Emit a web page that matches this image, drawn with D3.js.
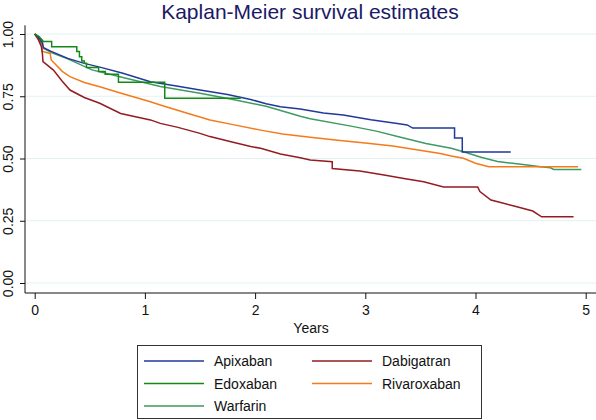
<!DOCTYPE html>
<html><head><meta charset="utf-8">
<script src="https://cdn.jsdelivr.net/npm/d3@7"></script>
<style>body{margin:0;background:#fff;}svg{display:block;font-family:"Liberation Sans",Arial,Helvetica,sans-serif;}</style>
</head><body><svg id="c" width="596" height="420"></svg>
<script>
const title = "Kaplan-Meier survival estimates";
const xLabel = "Years";
const xTicks = [0, 1, 2, 3, 4, 5];
const yTicks = [0, 0.25, 0.5, 0.75, 1];
const seriesNames = ["Apixaban", "Dabigatran", "Edoxaban", "Rivaroxaban", "Warfarin"];
const seriesColors = ["#22399a", "#931c22", "#138a17", "#f57a1a", "#3d9a62"];

const apixaban = [[0,1],[0.03,0.99],[0.07,0.965],[0.08,0.945],[0.15,0.93],[0.3,0.902],[0.45,0.882],[0.6,0.866],[0.8,0.842],[1.05,0.808],[1.3,0.79],[1.5,0.775],[1.75,0.757],[1.96,0.737],[2.1,0.72],[2.23,0.708],[2.41,0.699],[2.62,0.683],[2.8,0.675],[3.05,0.656],[3.29,0.641],[3.38,0.635],[3.43,0.622],[3.81,0.622],[3.81,0.582],[3.88,0.582],[3.88,0.526],[4.32,0.526]];
const dabigatran = [[0,1],[0.03,0.98],[0.06,0.95],[0.07,0.92],[0.075,0.889],[0.17,0.855],[0.25,0.81],[0.32,0.775],[0.45,0.745],[0.59,0.722],[0.78,0.681],[1.05,0.655],[1.14,0.641],[1.3,0.625],[1.5,0.601],[1.59,0.588],[1.8,0.565],[1.96,0.548],[2.05,0.541],[2.23,0.518],[2.41,0.503],[2.5,0.494],[2.7,0.487],[2.7,0.46],[2.95,0.45],[3.17,0.434],[3.35,0.42],[3.53,0.407],[3.71,0.386],[4.02,0.386],[4.04,0.367],[4.14,0.333],[4.22,0.324],[4.35,0.309],[4.52,0.289],[4.6,0.266],[4.89,0.266]];
const edoxaban = [[0,1],[0.04,0.99],[0.078,0.97],[0.154,0.97],[0.154,0.949],[0.382,0.949],[0.382,0.93],[0.406,0.93],[0.406,0.909],[0.427,0.909],[0.427,0.892],[0.45,0.892],[0.45,0.883],[0.47,0.883],[0.47,0.865],[0.58,0.865],[0.58,0.849],[0.64,0.849],[0.64,0.838],[0.76,0.838],[0.76,0.806],[1.18,0.806],[1.18,0.742],[1.87,0.742]];
const rivaroxaban = [[0,1],[0.03,0.99],[0.07,0.975],[0.07,0.93],[0.14,0.922],[0.15,0.896],[0.25,0.85],[0.32,0.829],[0.45,0.805],[0.59,0.788],[0.8,0.76],[1.05,0.728],[1.14,0.715],[1.4,0.68],[1.59,0.655],[1.8,0.636],[2.05,0.614],[2.25,0.598],[2.5,0.585],[2.75,0.573],[3.02,0.561],[3.25,0.55],[3.48,0.534],[3.68,0.52],[3.78,0.51],[3.89,0.501],[4.0,0.481],[4.12,0.467],[4.93,0.467]];
const warfarin = [[0,1],[0.02,0.99],[0.05,0.97],[0.08,0.943],[0.15,0.925],[0.3,0.9],[0.52,0.856],[0.8,0.825],[1.14,0.789],[1.5,0.762],[1.8,0.737],[2.1,0.71],[2.41,0.67],[2.5,0.66],[2.87,0.63],[3.1,0.61],[3.32,0.585],[3.55,0.56],[3.78,0.541],[3.89,0.527],[4.05,0.505],[4.2,0.488],[4.29,0.483],[4.45,0.475],[4.59,0.467],[4.68,0.463],[4.71,0.456],[4.96,0.456]];
const seriesData = [apixaban, dabigatran, edoxaban, rivaroxaban, warfarin];

const svg = d3.select("#c");
const x = d3.scaleLinear().domain([0, 5]).range([34.7, 585.7]);
const y = d3.scaleLinear().domain([0, 1]).range([283, 34]);
const left = 25, bottom = 293, right = 596;

svg.append("text").attr("x", 310).attr("y", 19).attr("text-anchor", "middle")
  .attr("font-size", 21).attr("fill", "#1a1a66").text(title);

// grid
svg.append("g").selectAll("line").data(yTicks).join("line")
  .attr("x1", left).attr("x2", right).attr("y1", d => y(d)).attr("y2", d => y(d))
  .attr("stroke", "#e2f1f1").attr("stroke-width", 1);

// axes
const yAxis = svg.append("g").attr("transform", `translate(${left},0)`)
  .call(d3.axisLeft(y).tickValues(yTicks).tickFormat(d3.format(".2f")).tickSize(5).tickPadding(0));
yAxis.select(".domain").attr("d", `M0,${y(1.035)}V${bottom}`).attr("stroke", "#111");
yAxis.selectAll(".tick line").attr("stroke", "#111");
yAxis.selectAll(".tick text").attr("font-size", 14).attr("fill", "#111")
  .attr("text-anchor", "middle").attr("x", 0).attr("dy", 0)
  .attr("transform", "translate(-12,0) rotate(-90)");

const xAxis = svg.append("g").attr("transform", `translate(0,${bottom})`)
  .call(d3.axisBottom(x).tickValues(xTicks).tickFormat(d3.format("d")).tickSize(6).tickPadding(0));
xAxis.select(".domain").attr("d", `M${left},0H${right}`).attr("stroke", "#111");
xAxis.selectAll(".tick line").attr("stroke", "#111");
xAxis.selectAll(".tick text").attr("font-size", 14).attr("fill", "#111").attr("dy", 0).attr("y", 22);
svg.selectAll(".domain").attr("fill", "none");

svg.append("text").attr("x", 311).attr("y", 333).attr("text-anchor", "middle")
  .attr("font-size", 14).attr("fill", "#111").text(xLabel);

// lines
const line = d3.line().x(d => x(d[0])).y(d => y(d[1]));
const drawOrder = [4, 3, 1, 0, 2];
svg.append("g").selectAll("path").data(drawOrder).join("path")
  .attr("d", i => line(seriesData[i])).attr("fill", "none")
  .attr("stroke", i => seriesColors[i]).attr("stroke-width", 1.5);

// legend
const lg = svg.append("g");
lg.append("rect").attr("x", 137.5).attr("y", 345.5).attr("width", 344).attr("height", 73)
  .attr("fill", "#fff").attr("stroke", "#333").attr("stroke-width", 1);
const legendPos = [[0,0],[1,0],[0,1],[1,1],[0,2]];
const items = lg.selectAll("g").data(seriesNames).join("g")
  .attr("transform", (d, i) => `translate(${144 + legendPos[i][0]*168},${361 + legendPos[i][1]*22.5})`);
items.append("line").attr("x1", 0).attr("x2", 60).attr("y1", 0).attr("y2", 0)
  .attr("stroke", (d, i) => seriesColors[i]).attr("stroke-width", 1.5);
items.append("text").attr("x", 70).attr("y", 5).attr("font-size", 14).attr("fill", "#111").text(d => d);
</script></body></html>
